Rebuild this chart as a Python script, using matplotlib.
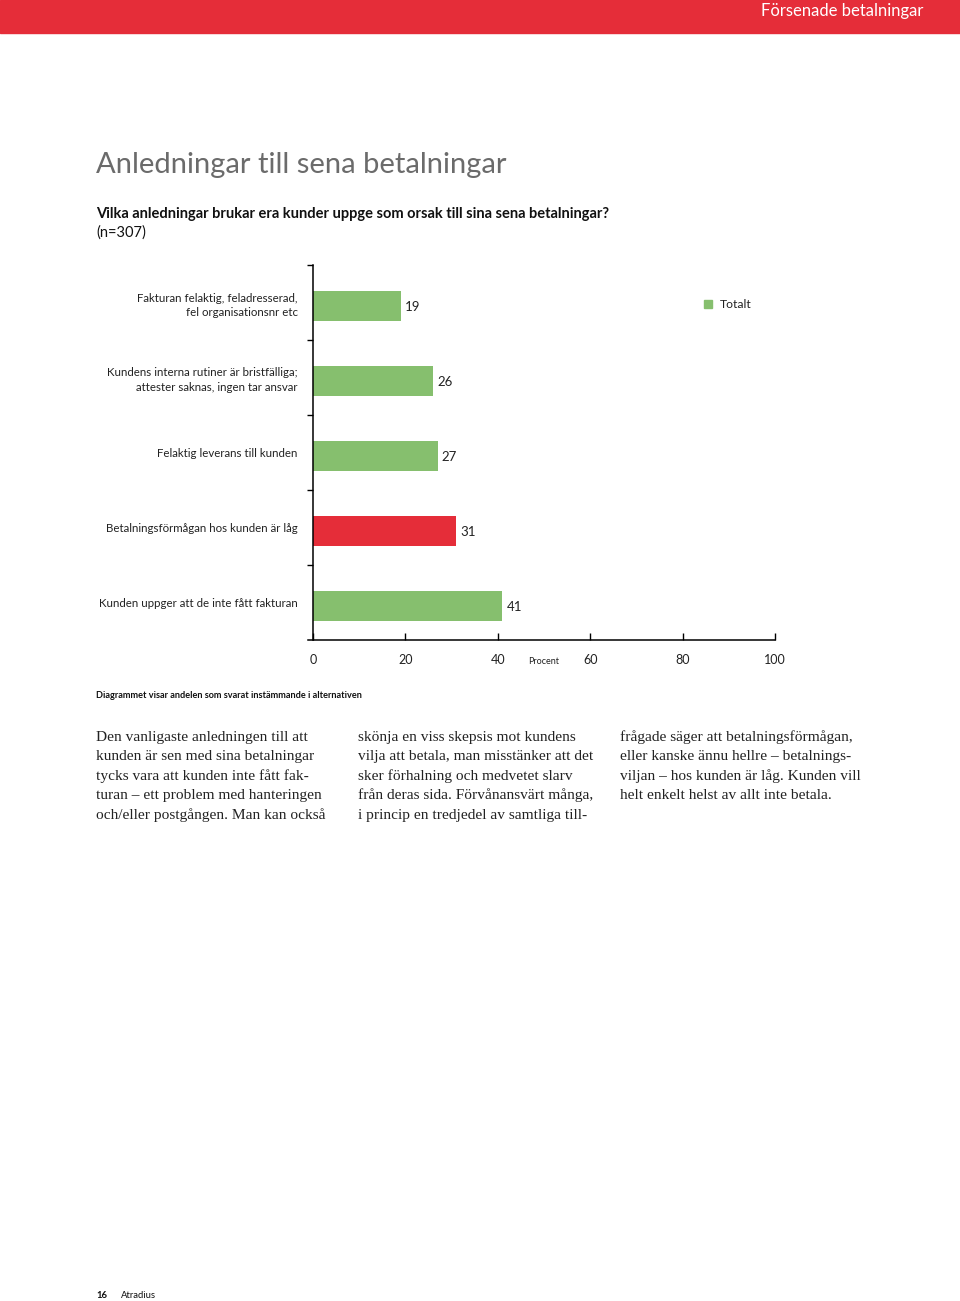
import numpy as np
import matplotlib
matplotlib.use("Agg")
import matplotlib.pyplot as plt
from matplotlib.patches import Rectangle

# data
categories = [
    "Fakturan felaktig, feladresserad,\nfel organisationsnr etc",
    "Kundens interna rutiner är bristfälliga;\nattester saknas, ingen tar ansvar",
    "Felaktig leverans till kunden",
    "Betalningsförmågan hos kunden är låg",
    "Kunden uppger att de inte fått fakturan",
]
values = [19, 26, 27, 31, 41]
highlight = [False, False, False, True, False]
xticks = [0, 20, 40, 60, 80, 100]

col1 = ["Den vanligaste anledningen till att",
        "kunden är sen med sina betalningar",
        "tycks vara att kunden inte fått fak-",
        "turan – ett problem med hanteringen",
        "och/eller postgången. Man kan också"]
col2 = ["skönja en viss skepsis mot kundens",
        "vilja att betala, man misstänker att det",
        "sker förhalning och medvetet slarv",
        "från deras sida. Förvånansvärt många,",
        "i princip en tredjedel av samtliga till-"]
col3 = ["frågade säger att betalningsförmågan,",
        "eller kanske ännu hellre – betalnings-",
        "viljan – hos kunden är låg. Kunden vill",
        "helt enkelt helst av allt inte betala."]

GREEN = "#86bf6e"
RED = "#e52d39"
SANS = ["Lato", "DejaVu Sans"]
SERIF = ["Liberation Serif", "DejaVu Serif"]

W, H = 960, 1301
fig = plt.figure(figsize=(W / 100, H / 100), dpi=100)

def fx(px):
    return px / W

def fy(py):
    return 1 - py / H

# header band
fig.patches.append(Rectangle((0, fy(33)), 1, 33 / H, transform=fig.transFigure,
                             color=RED, zorder=0))
fig.text(fx(923), fy(11), "Försenade betalningar", color="white", fontsize=12,
         family=SANS, ha="right", va="center")

fig.text(fx(96), fy(165), "Anledningar till sena betalningar", color="#6b6b6b",
         fontsize=21, family=SANS, ha="left", va="center")
fig.text(fx(96), fy(214), "Vilka anledningar brukar era kunder uppge som orsak till sina sena betalningar?",
         fontsize=10.5, fontweight="bold", family=SANS, ha="left", va="center", color="#111111")
fig.text(fx(96), fy(233), "(n=307)", fontsize=10.5, family=SANS, ha="left", va="center",
         color="#111111")

# chart
ax = fig.add_axes([fx(313), fy(640), fx(775) - fx(313), (640 - 265) / H])
y = np.arange(len(categories))
colors = [RED if h else GREEN for h in highlight]
ax.barh(y + 0.04, values, height=0.4, color=colors, zorder=2)
for yi, v in zip(y, values):
    ax.text(v + 0.9, yi + 0.06, str(v), va="center", ha="left", fontsize=9.5,
            family=SANS, color="#222222")

ax.set_xlim(0, 100)
ax.set_ylim(len(categories) - 0.5, -0.5)
ax.set_yticks(y)
ax.set_yticklabels(categories, family=SANS, fontsize=8.3, color="#222222",
                   linespacing=1.4)
ax.tick_params(axis="y", length=0, pad=11)
ax.set_yticks(np.arange(-0.5, len(categories) - 0.5, 1.0), minor=True)
ax.tick_params(axis="y", which="minor", length=4, direction="out", width=1)
ax.set_xticks(xticks)
ax.set_xticklabels([str(t) for t in xticks], family=SANS, fontsize=9, color="#222222")
ax.tick_params(axis="x", length=5, direction="in", width=1, pad=10)
for s in ["top", "right"]:
    ax.spines[s].set_visible(False)
ax.spines["left"].set_linewidth(1.1)
ax.spines["bottom"].set_linewidth(1.1)
ax.spines["bottom"].set_bounds(-1, 100)
ax.text(50, 4.5 + 0.28, "Procent", fontsize=6.5, family=SANS, ha="center",
        va="center", color="#222222")

# legend
fig.patches.append(Rectangle((fx(704), fy(308)), 8 / W, 8 / H, transform=fig.transFigure,
                             color=GREEN))
fig.text(fx(720), fy(304), "Totalt", fontsize=8.7, family=SANS, ha="left", va="center",
         color="#222222")

fig.text(fx(96), fy(695), "Diagrammet visar andelen som svarat instämmande i alternativen",
         fontsize=6.6, fontweight="bold", family=SANS, ha="left", va="center", color="#111111")

# body text
for x0, lines in zip([96, 358, 620], [col1, col2, col3]):
    for i, line in enumerate(lines):
        fig.text(fx(x0), fy(737 + i * 19.5), line, fontsize=11.1, family=SERIF,
                 ha="left", va="center", color="#222222")

fig.text(fx(96), fy(1295), "16", fontsize=6.8, fontweight="bold", family=SANS,
         ha="left", va="center", color="#111111")
fig.text(fx(121), fy(1295), "Atradius", fontsize=6.8, family=SANS, ha="left",
         va="center", color="#111111")

fig.savefig("out.png", dpi=100)
